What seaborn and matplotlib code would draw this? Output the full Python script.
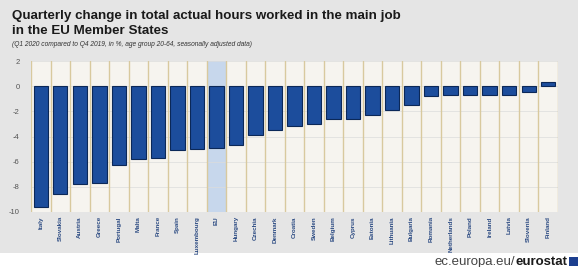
import matplotlib
matplotlib.use("Agg")
import matplotlib.pyplot as plt
import seaborn as sns
import pandas as pd
from matplotlib.patches import Rectangle

countries = ["Italy", "Slovakia", "Austria", "Greece", "Portugal", "Malta", "France", "Spain",
             "Luxembourg", "EU", "Hungary", "Czechia", "Denmark", "Croatia", "Sweden", "Belgium",
             "Cyprus", "Estonia", "Lithuania", "Bulgaria", "Romania", "Netherlands", "Poland",
             "Ireland", "Latvia", "Slovenia", "Finland"]
values = [-9.6, -8.6, -7.8, -7.7, -6.3, -5.8, -5.7, -5.1, -5.0, -4.9, -4.7, -3.9, -3.5, -3.2,
          -3.0, -2.6, -2.6, -2.3, -1.9, -1.5, -0.8, -0.7, -0.7, -0.7, -0.7, -0.5, 0.3]
yticks = [2, 0, -2, -4, -6, -8, -10]

df = pd.DataFrame({"country": countries, "value": values})

sns.set_theme(style="white")
plt.rcParams['font.family'] = ['Liberation Sans Narrow', 'Liberation Sans', 'DejaVu Sans']

fig = plt.figure(figsize=(5.84, 2.67), dpi=100)
fig.patch.set_facecolor("white")

bg = fig.add_axes([0, 14/267, 578/584, 1 - 14/267])
bg.set_facecolor("#e5e5e5")
bg.set_xticks([]); bg.set_yticks([])
for s in bg.spines.values():
    s.set_visible(False)
bg.set_zorder(0)

ax = fig.add_axes([31/584, 1 - 212/267, (558 - 31)/584, (212 - 61)/267])
ax.set_zorder(1)
ax.set_facecolor("#f6f4ef")

n = len(countries)
eu_idx = countries.index("EU")
ax.axvspan(eu_idx - 0.5, eu_idx + 0.5, color="#c7d7ec", zorder=0.5, lw=0)
for t in yticks:
    ax.axhline(t, color="#dcdcdc", lw=0.5, zorder=0.6)
for i in range(n + 1):
    ax.axvline(i - 0.5, color="#d8c99e", lw=1.0, zorder=0.7)

sns.barplot(data=df, x="country", y="value", ax=ax, color="#1c4d9c", width=0.74,
            edgecolor="#0b2858", linewidth=0.8, saturation=1, zorder=2)

ax.set_xlim(-0.5, n - 0.5)
ax.set_ylim(-10, 2)
ax.set_yticks(yticks)
ax.set_yticklabels([str(t) for t in yticks], fontsize=5.5, color="#555555")
ax.set_xlabel("")
ax.set_ylabel("")
ax.set_xticks(range(n))
ax.set_xticklabels(countries, rotation=90, fontsize=4.5, color="#2b4a82", fontweight="bold")
ax.tick_params(axis="x", length=0, pad=3)
ax.tick_params(axis="y", length=0, pad=8)
for s in ax.spines.values():
    s.set_visible(False)

fig.text(12/584, 1 - 16/267, "Quarterly change in total actual hours worked in the main job",
         fontsize=9.6, fontweight="bold", color="#1a1a1a", va="center", ha="left", zorder=5)
fig.text(12/584, 1 - 31/267, "in the EU Member States",
         fontsize=9.6, fontweight="bold", color="#1a1a1a", va="center", ha="left", zorder=5)
fig.text(12/584, 1 - 45/267,
         "(Q1 2020 compared to Q4 2019, in %, age group 20-64, seasonally adjusted data)",
         fontsize=4.8, style="italic", color="#333333", va="center", ha="left", zorder=5)

t1 = fig.text(0, 1 - 262/267, "ec.europa.eu/", fontsize=9.5, color="#444444", va="center")
t2 = fig.text(0, 1 - 262/267, "eurostat", fontsize=9.5, color="#1a1a1a", fontweight="bold", va="center")
fig.canvas.draw()
r = fig.canvas.get_renderer()
w1 = t1.get_window_extent(r).width / 584
w2 = t2.get_window_extent(r).width / 584
xend = 567/584
t2.set_x(xend - w2)
t1.set_x(xend - w2 - w1)
fig.patches.append(Rectangle((569/584, 1 - 266/267), 9/584, 9/267, transform=fig.transFigure,
                             facecolor="#1c3f8f", edgecolor="none"))

fig.savefig("out.png", dpi=100)
